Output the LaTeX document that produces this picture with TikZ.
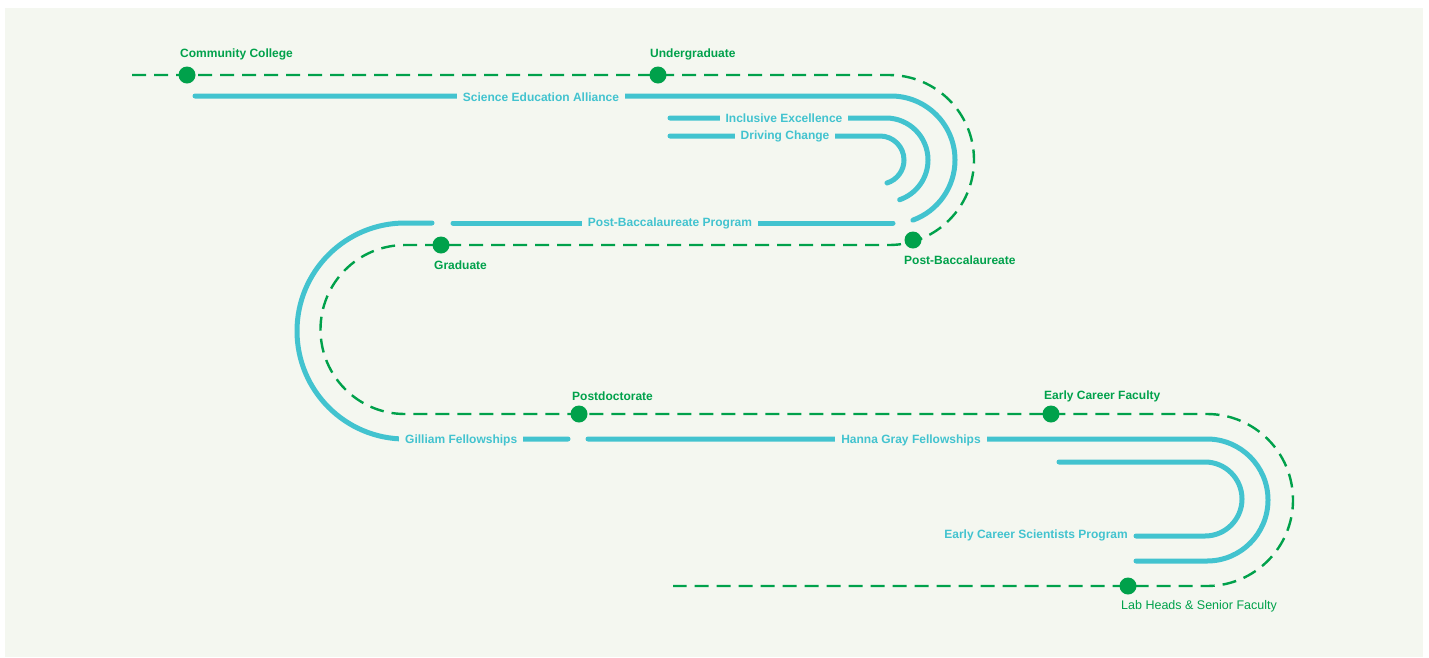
\documentclass[tikz,border=0pt]{standalone}
\usepackage{fontspec}
\setmainfont{Liberation Sans}
\definecolor{bgc}{HTML}{F4F7F0}
\definecolor{grn}{HTML}{00A14B}
\definecolor{blu}{HTML}{42C3CF}
\begin{document}
\begin{tikzpicture}[x=1pt,y=-1pt,
  track/.style={draw=grn,line width=2.4pt,dash pattern=on 14pt off 8pt},
  prog/.style={draw=blu,line width=5pt,line cap=round},
  dot/.style={circle,fill=grn,minimum size=17pt,inner sep=0pt},
  stage/.style={text=grn,font=\fontsize{12}{14}\selectfont\bfseries,inner sep=0pt},
  plabel/.style={text=blu,font=\fontsize{12}{14}\selectfont\bfseries,fill=bgc,inner xsep=6pt,inner ysep=2pt}]
\fill[white] (0,0) rectangle (1429,657);
\fill[bgc] (5,8) rectangle (1423,657);
\useasboundingbox (0,0) rectangle (1429,657);
% coordinates
\coordinate (t0) at (132,75);
\coordinate (t1) at (889,75);
\coordinate (m0) at (405,245);
\coordinate (m1) at (1207,414);
\coordinate (b0) at (673,586);
% dashed track
\draw[track] (t0) -- (t1) arc(-90:90:85) -- (m0) arc(-90:-270:84.5) -- (m1) arc(-90:90:86) -- (b0);
% programs
\draw[prog] (195,96) coordinate (sea0) -- (891,96) arc(-90:70:64) coordinate (sea1);
\draw[prog] (670,118) coordinate (ie0) -- (886,118) arc(-90:71:42) coordinate (ie1);
\draw[prog] (670,136) coordinate (dc0) -- (880,136) arc(-90:73:24) coordinate (dc1);
\draw[prog] (893,223) coordinate (pb0) -- (453,223) coordinate (pb1);
\draw[prog] (432,223) coordinate (gf0) -- (405,223) arc(-90:-270:108) -- (568,439) coordinate (gf1);
\draw[prog] (588,439) coordinate (hg0) -- (1207,439) arc(-90:90:61) -- (1136,561) coordinate (hg1);
\draw[prog] (1059,462) coordinate (ec0) -- (1205,462) arc(-90:90:37) -- (1136,536) coordinate (ec1);
% program labels
\node[plabel] (lsea) at (541,97) {Science Education Alliance};
\node[plabel] (lie) at (784,118) {Inclusive Excellence};
\node[plabel] (ldc) at (785,136) {Driving Change};
\node[plabel] (lpb) at (670,223) {Post-Baccalaureate Program};
\node[plabel,anchor=west] (lgf) at (399,440) {Gilliam Fellowships};
\node[plabel] (lhg) at (911,440) {Hanna Gray Fellowships};
\node[text=blu,font=\fontsize{12}{14}\selectfont\bfseries,inner sep=0pt,anchor=east] (lec) at (1128,535) {Early Career Scientists Program};
% stage dots
\node[dot] (cc) at (187,75) {};
\node[dot] (ug) at (658,75) {};
\node[dot] (pbd) at (913,240) {};
\node[dot] (gr) at (441,245) {};
\node[dot] (pd) at (579,414) {};
\node[dot] (ecf) at (1051,414) {};
\node[dot] (lh) at (1128,586) {};
% stage labels
\node[stage,anchor=west] at (180,54) {Community College};
\node[stage,anchor=west] at (650,54) {Undergraduate};
\node[stage,anchor=west] at (904,260) {Post-Baccalaureate};
\node[stage,anchor=west] at (434,265) {Graduate};
\node[stage,anchor=west] at (572,396) {Postdoctorate};
\node[stage,anchor=west] at (1044,396) {Early Career Faculty};
\node[stage,anchor=west,font=\fontsize{12.5}{14}\selectfont] at (1121,606) {Lab Heads \& Senior Faculty};
\end{tikzpicture}
\end{document}
